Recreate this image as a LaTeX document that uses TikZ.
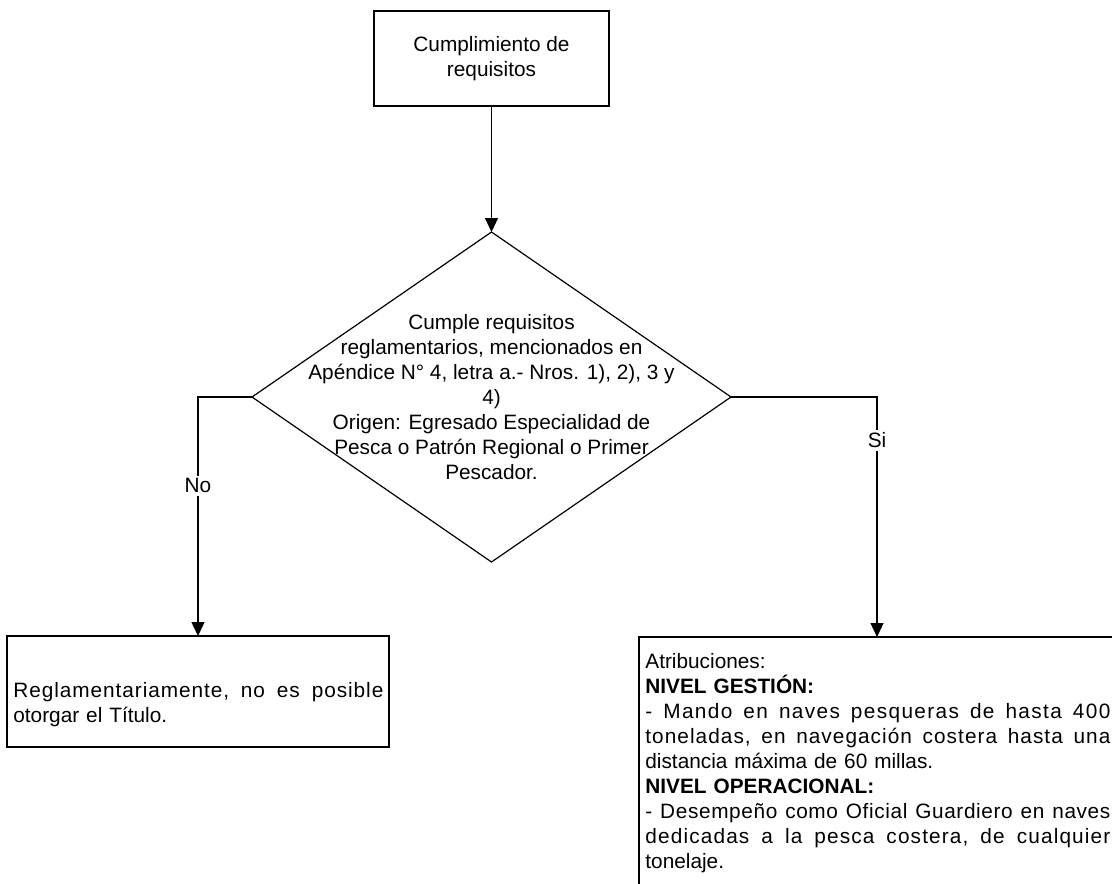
\documentclass[tikz,border=0pt]{standalone}
\usepackage{fontspec}
\setmainfont{Liberation Sans}
\usetikzlibrary{arrows.meta,shapes.geometric}
\newcommand{\gp}{\hskip 0.278em plus 1fil\relax}
\newcommand{\jl}[3]{\leavevmode\hbox to #1{\addfontfeature{LetterSpace=#2}#3}}
\begin{document}
\begin{tikzpicture}[x=0.5pt,y=-0.5pt,
  font=\fontsize{10.4pt}{12.5pt}\selectfont,
  box/.style={draw, line width=0.6pt, rectangle, inner sep=0pt, outer sep=0pt},
  link/.style={draw, line width=0.6pt},
  arr/.style={link, -{Triangle[length=7pt,width=6.5pt]}},
  lbl/.style={fill=white, inner sep=1.5pt},
  txt/.style={inner sep=0pt, anchor=base west, align=left}]
\clip (0,0) rectangle (1112,883);
\fill[white] (0,0) rectangle (1112,883);
% nodes
\node[box, minimum width=117.5pt, minimum height=47.5pt, align=center] (start) at (491.5,58.5) {Cumplimiento de\\requisitos};
\node[diamond, draw, line width=0.6pt, inner sep=0pt, outer sep=0pt, minimum width=239.5pt, minimum height=165pt] (dia) at (491.5,397) {};
\node[align=center, inner sep=0pt] (dtext) at (491.5,397.5) {Cumple requisitos\\reglamentarios, mencionados en\\Apéndice N° 4, letra a.- Nros. 1), 2), 3 y\\4)\\Origen: Egresado Especialidad de\\Pesca o Patrón Regional o Primer\\Pescador.};
\node[box, minimum width=191pt, minimum height=55.5pt] (lbox) at (198,691.5) {};
\node[txt, text width=185pt] (ltext) at (13,697) {\jl{185pt}{4.5}{Reglamentariamente,\gp no\gp es\gp posible}\\otorgar el Título.};
\node[box, anchor=north west, minimum width=238pt, minimum height=130pt] (rbox) at (639,637) {};
\node[txt, text width=232.5pt] (rtext) at (645,668) {Atribuciones:\\
\textbf{NIVEL GESTIÓN:}\\
\jl{232.5pt}{6.5}{-\gp Mando\gp en\gp naves\gp pesqueras\gp de\gp hasta\gp 400}\\
\jl{232.5pt}{5}{toneladas,\gp en\gp navegación\gp costera\gp hasta\gp una}\\
distancia máxima de 60 millas.\\
\textbf{NIVEL OPERACIONAL:}\\
\jl{232.5pt}{3}{-\gp Desempeño\gp como\gp Oficial\gp Guardiero\gp en\gp naves}\\
\jl{232.5pt}{5.5}{dedicadas\gp a\gp la\gp pesca\gp costera,\gp de\gp cualquier}\\
tonelaje.};
% connectors
\draw[arr] (start.south) -- (dia.north);
\draw[arr] (dia.west) -| node[lbl, pos=0.686] {No} (lbox.north);
\draw[arr] (dia.east) -| node[lbl, pos=0.59] {Si} (rbox.north);
\end{tikzpicture}
\end{document}
